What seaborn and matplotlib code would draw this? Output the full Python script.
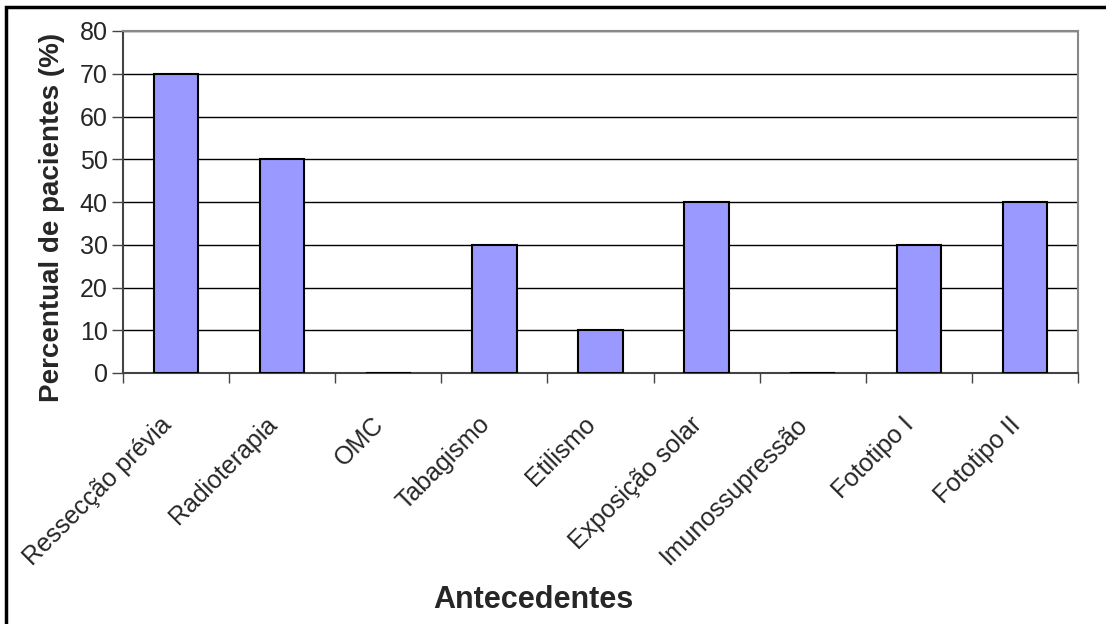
import matplotlib
matplotlib.use("Agg")
import matplotlib.pyplot as plt
import seaborn as sns
import pandas as pd
from matplotlib.patches import Rectangle

categorias = ["Ressecção prévia", "Radioterapia", "OMC", "Tabagismo", "Etilismo",
              "Exposição solar", "Imunossupressão", "Fototipo I", "Fototipo II"]
percentuais = [70, 50, 0, 30, 10, 40, 0, 30, 40]
yticks = [0, 10, 20, 30, 40, 50, 60, 70, 80]

data = pd.DataFrame({"Antecedentes": categorias, "Percentual": percentuais})

sns.set_style("white")
plt.rcParams["font.family"] = ["Liberation Sans", "DejaVu Sans"]

fig = plt.figure(figsize=(11.06, 6.24), dpi=100)
ax = fig.add_axes([123 / 1106, 1 - 373 / 624, (1078 - 123) / 1106, (373 - 31) / 624])

sns.barplot(data=data, x="Antecedentes", y="Percentual", color="#9999FF",
            saturation=1, width=0.42, edgecolor="black", linewidth=1.5, ax=ax, zorder=3)

ax.set_xlim(-0.5, len(categorias) - 0.5)
ax.set_ylim(0, 80)
ax.set_yticks(yticks)
ax.yaxis.grid(True, color="black", linewidth=1)
ax.set_axisbelow(True)

# ticks at category boundaries, labels at centres
ax.set_xticks([i - 0.5 for i in range(len(categorias) + 1)], minor=True)
ax.set_xticks(range(len(categorias)))
ax.set_xticklabels(categorias, rotation=45, ha="right", va="bottom",
                   rotation_mode="anchor", fontsize=18)
ax.tick_params(axis="x", which="major", bottom=False, pad=37)
ax.tick_params(axis="x", which="minor", bottom=True, length=7, width=1, color="#444444", direction="out")
ax.tick_params(axis="y", left=True, length=8, width=1, color="#444444", direction="out", labelsize=18, pad=3)

for s in ["left", "bottom"]:
    ax.spines[s].set_color("#444444")
    ax.spines[s].set_linewidth(1.5)
for s in ["top", "right"]:
    ax.spines[s].set_color("#888888")
    ax.spines[s].set_linewidth(1.5)

ax.set_ylabel("Percentual de pacientes (%)", fontsize=20, fontweight="bold")
ax.yaxis.set_label_coords(-0.061, 0.456)
ax.set_xlabel("Antecedentes", fontsize=22, fontweight="bold")
ax.xaxis.set_label_coords(0.43, -0.62)

fig.patches.append(Rectangle((6 / 1106, -0.05), 1.1, 1 - 7 / 624 + 0.05, transform=fig.transFigure,
                             fill=False, edgecolor="black", linewidth=2.5))

fig.savefig("out.png", dpi=100)
